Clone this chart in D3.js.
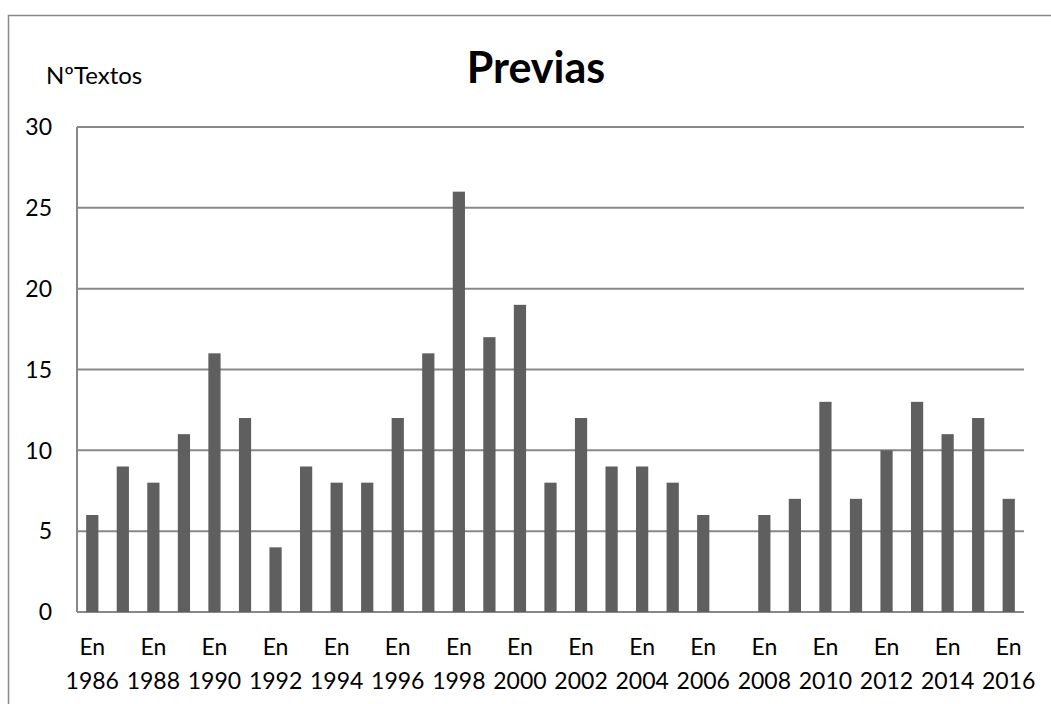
<!DOCTYPE html>
<html>
<head>
<meta charset="utf-8">
<script src="https://cdn.jsdelivr.net/npm/d3@7"></script>
<style>
body { margin: 0; background: #fff; }
text { font-family: Lato, "Open Sans", sans-serif; fill: #000; }
</style>
</head>
<body>
<svg id="graph"></svg>
<script>
var svg = d3.select("#graph");
var width = 1051;
var height = 704;
svg.attr("width", width).attr("height", height);

// data
var years = [1986, 1987, 1988, 1989, 1990, 1991, 1992, 1993, 1994, 1995, 1996,
  1997, 1998, 1999, 2000, 2001, 2002, 2003, 2004, 2005, 2006, 2007, 2008,
  2009, 2010, 2011, 2012, 2013, 2014, 2015, 2016];
var textos = [6, 9, 8, 11, 16, 12, 4, 9, 8, 8, 12, 16, 26, 17, 19, 8, 12, 9,
  9, 8, 6, 0, 6, 7, 13, 7, 10, 13, 11, 12, 7];
var yTicks = [0, 5, 10, 15, 20, 25, 30];

var margin = {left: 77, top: 127, right: 1024, bottom: 612};

// outer frame (right and bottom edges run off the picture)
svg.append("path")
  .attr("d", "M8.5,704 L8.5,15.5 L1051,15.5")
  .attr("fill", "none")
  .attr("stroke", "#8a8a8a")
  .attr("stroke-width", 1.5);

var x = d3.scaleBand()
  .domain(years)
  .range([margin.left, margin.right])
  .paddingInner(0.6)
  .paddingOuter(0.3);

var y = d3.scaleLinear()
  .domain([0, 30])
  .range([margin.bottom, margin.top]);

// gridlines
svg.append("g").selectAll("line").data(yTicks).enter().append("line")
  .attr("x1", margin.left)
  .attr("x2", margin.right)
  .attr("y1", function(d) { return y(d); })
  .attr("y2", function(d) { return y(d); })
  .attr("stroke", "#888")
  .attr("stroke-width", 2);

// left axis line
svg.append("line")
  .attr("x1", margin.left).attr("x2", margin.left)
  .attr("y1", margin.top).attr("y2", margin.bottom)
  .attr("stroke", "#888")
  .attr("stroke-width", 2);

// y labels
svg.append("g").selectAll("text").data(yTicks).enter().append("text")
  .attr("x", 52)
  .attr("y", function(d) { return y(d); })
  .attr("dy", "0.36em")
  .attr("text-anchor", "end")
  .style("font-size", "23px")
  .text(function(d) { return d; });

// bars
svg.append("g").selectAll("rect").data(years).enter().append("rect")
  .attr("x", function(d) { return x(d); })
  .attr("width", x.bandwidth())
  .attr("y", function(d, i) { return y(textos[i]); })
  .attr("height", function(d, i) { return y(0) - y(textos[i]); })
  .attr("fill", "#5f5f5f");

// x labels, every other year
var labelled = years.filter(function(d, i) { return i % 2 == 0; });
var xl = svg.append("g").selectAll("text").data(labelled).enter().append("text")
  .attr("text-anchor", "middle")
  .style("font-size", "23px");
xl.append("tspan")
  .attr("x", function(d) { return x(d) + x.bandwidth() / 2; })
  .attr("y", 655)
  .text("En");
xl.append("tspan")
  .attr("x", function(d) { return x(d) + x.bandwidth() / 2; })
  .attr("y", 689)
  .text(function(d) { return d; });

// titles
svg.append("text")
  .attr("x", 536).attr("y", 83)
  .attr("text-anchor", "middle")
  .style("font-size", "43px")
  .style("font-weight", "bold")
  .text("Previas");

svg.append("text")
  .attr("x", 46).attr("y", 84)
  .style("font-size", "24px")
  .text("NºTextos");
</script>
</body>
</html>
